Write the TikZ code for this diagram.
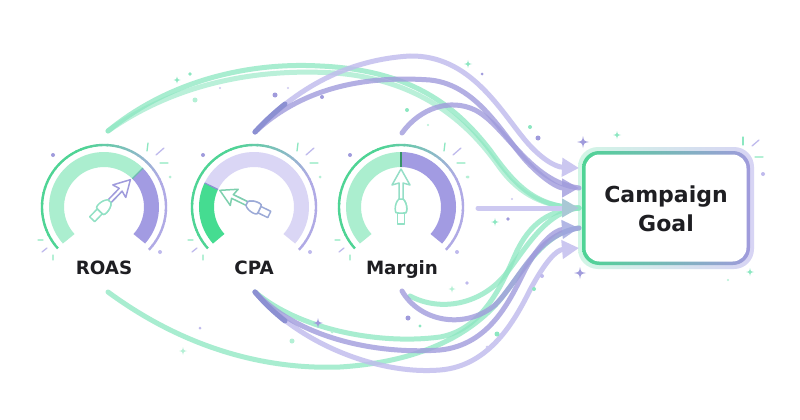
\documentclass[tikz,border=0pt]{standalone}
\usepackage{fontspec}
\setmainfont{DejaVu Sans}
\usetikzlibrary{arrows.meta}
\definecolor{ink}{HTML}{1E1E22}
\definecolor{mint}{HTML}{8CE7C1}
\definecolor{mintd}{HTML}{4FD495}
\definecolor{mintl}{HTML}{B4F0D5}
\definecolor{lav}{HTML}{BFBAED}
\definecolor{lavl}{HTML}{CDC9F1}
\definecolor{purp}{HTML}{A09BDC}
\definecolor{purpd}{HTML}{8C90D2}
\definecolor{bluep}{HTML}{9FA6DF}
\definecolor{tealg}{HTML}{A9C8D5}
\definecolor{bandP}{HTML}{A29BE2}
\definecolor{bandL}{HTML}{DAD6F5}
\definecolor{bandG}{HTML}{ABEECF}
\definecolor{bandGd}{HTML}{45DC91}
\definecolor{ringP}{HTML}{B0AAE5}
\tikzset{
  flow/.style={line width=5pt, line cap=round},
  grp/.style={transparency group, opacity=#1},
  label/.style={font=\bfseries\fontsize{18.3}{22}\selectfont, text=ink, anchor=base},
  needle/.style={line width=1.5pt, fill=white, line join=round},
  tickmark/.style={line width=1.3pt, line cap=round},
  band/.style={line width=15pt},
}
\newcommand\mysparkle[4]{\begin{scope}[shift={(#1,#2)},scale=#3]\fill[#4] (0,-1) .. controls (0.15,-0.15) .. (1,0) .. controls (0.15,0.15) .. (0,1) .. controls (-0.15,0.15) .. (-1,0) .. controls (-0.15,-0.15) .. (0,-1) -- cycle;\end{scope}}
\newcommand\myneedle[2]{%
  \draw[needle, draw=#2] (-17pt,-3.5pt) rectangle (-6pt,3.5pt);
  \draw[needle, draw=#2] (-6pt,-2.5pt) .. controls (-9pt,-7pt) and (4pt,-7pt) .. (8pt,-2pt) -- (23pt,-2pt);
  \draw[needle, draw=#1] (8pt,-2pt) -- (24pt,-2pt) -- (22pt,-9pt) -- (38pt,0pt) -- (22pt,9pt) -- (24pt,2pt) -- (8pt,2pt);
  \draw[needle, draw=#2] (-6pt,-2.5pt) .. controls (-9pt,-7pt) and (4pt,-7pt) .. (8pt,-2pt) -- (8pt,2pt) .. controls (4pt,7pt) and (-9pt,7pt) .. (-6pt,2.5pt) -- cycle;}
\newcommand\myring{%
  \foreach \a in {222,217,...,-38}{
    \pgfmathsetmacro\p{max(0,min(100,(\a-30)*1.25))}
    \draw[line width=2.4pt, draw=mintd!\p!ringP] (\a:62pt) arc[start angle=\a, end angle=\a-5.6, radius=62pt];
  }}
\newcommand\mydecor{%
  \draw[tickmark, mint] (44,-64) -- (43,-56);
  \draw[tickmark, lav] (52,-52) -- (60,-59);
  \draw[tickmark, mintl] (56,-44) -- (64,-44);
  \draw[tickmark, mintl] (-66,33) -- (-61,33);
  \draw[tickmark, lav] (-62,45) -- (-57,41);
  \draw[tickmark, mintl] (-51,48) -- (-51,53);
  \fill[purp] (-51,-52) circle[radius=2pt];
  \fill[lav] (56,45) circle[radius=2pt];
  \fill[mintl] (66,-30) circle[radius=1.5pt];}
\begin{document}
\begin{tikzpicture}[x=1pt,y=-1pt]
\useasboundingbox (0,0) rectangle (800,420);
\fill[white] (0,0) rectangle (800,420);

% ---------- gauges ----------
\coordinate (roas) at (104,207);
\coordinate (cpa) at (254,207);
\coordinate (marg) at (401,207);

\begin{scope}[shift={(roas)}]
  \myring
  \draw[band, bandG] (222:47.5pt) arc[start angle=222,end angle=45,radius=47.5pt];
  \draw[band, bandP] (45:47.5pt) arc[start angle=45,end angle=-42,radius=47.5pt];
  \draw[line width=1.2pt, draw=mintd!60!purp] (45:40pt) -- (45:55pt);
  \mydecor
  \begin{scope}[rotate=46]\myneedle{purp}{mint!80!tealg}\end{scope}
\end{scope}

\begin{scope}[shift={(cpa)}]
  \myring
  \draw[band, bandL] (154:47.5pt) arc[start angle=154,end angle=-42,radius=47.5pt];
  \draw[band, bandGd] (222:47.5pt) arc[start angle=222,end angle=154,radius=47.5pt];
  \draw[line width=1.2pt, draw=purpd] (154:40pt) -- (154:55pt);
  \mydecor
  \begin{scope}[rotate=154]\myneedle{mint!90!black}{purp!80!mint}\end{scope}
\end{scope}

\begin{scope}[shift={(marg)}]
  \myring
  \draw[band, bandG] (222:47.5pt) arc[start angle=222,end angle=90,radius=47.5pt];
  \draw[band, bandP] (90:47.5pt) arc[start angle=90,end angle=-42,radius=47.5pt];
  \draw[line width=1.2pt, draw=mintd!70!black] (90:40pt) -- (90:55pt);
  \mydecor
  \begin{scope}[rotate=90]\myneedle{mint!70!tealg}{mint!80!tealg}\end{scope}
\end{scope}

\node[label] (roasL) at (104,274) {ROAS};
\node[label] (cpaL) at (254,274) {CPA};
\node[label] (margL) at (402,274) {Margin};

% ---------- goal box ----------
\shade[rounded corners=20pt, left color=mintl!60, right color=lavl!80] (578,147) rectangle (754,269);
\shade[rounded corners=17pt, left color=mintd, right color=purp] (582,151) rectangle (750,265);
\fill[white, rounded corners=14pt] (585.5,154.5) rectangle (746.5,261.5);
\node[font=\bfseries\fontsize{22}{29}\selectfont, text=ink, align=center] (goal) at (666,209) {Campaign\\Goal};

% ---------- connector points ----------
\coordinate (roasTop) at (108,131);
\coordinate (cpaTop) at (255,132);
\coordinate (marTop) at (402,133);
\coordinate (roasBot) at (108,292);
\coordinate (cpaBot) at (255,292);
\coordinate (marBot) at (402,291);
\coordinate (marBotB) at (410,296);
\coordinate (marRight) at (478,208);
\coordinate (g1) at (579,168);
\coordinate (g2) at (579,188);
\coordinate (g3) at (579,208);
\coordinate (g4) at (579,228);
\coordinate (g5) at (579,248);

% ---------- flows without tips ----------
\begin{scope}[grp=0.75]
\draw[flow, mint] (roasTop) .. controls (170,80) and (250,62) .. (320,66) .. controls (410,70) and (455,105) .. (490,150) .. controls (515,185) and (535,207) .. (g3);
\end{scope}
\begin{scope}[grp=0.6]
\draw[flow, mint] (roasTop) .. controls (175,84) and (255,68) .. (335,73) .. controls (425,80) and (472,128) .. (500,168) .. controls (520,195) and (545,207) .. (g3);
\end{scope}
\begin{scope}[grp=0.75]
\draw[flow, mint] (roasBot) .. controls (180,345) and (260,370) .. (340,367) .. controls (420,362) and (470,335) .. (500,300) .. controls (525,268) and (545,232) .. (g4);
\end{scope}
\begin{scope}[grp=0.75]
\draw[flow, mint] (cpaBot) .. controls (300,330) and (380,345) .. (440,337) .. controls (480,330) and (500,290) .. (515,255) .. controls (530,222) and (550,210) .. (g3);
\end{scope}
\begin{scope}[grp=0.75]
\draw[flow, mint] (marBotB) .. controls (440,312) and (480,305) .. (505,275) .. controls (525,250) and (545,212) .. (g3);
\end{scope}
\begin{scope}[grp=0.8]
\draw[flow, purp] (marTop) .. controls (420,108) and (450,98) .. (475,110) .. controls (505,125) and (530,182) .. (g2);
\end{scope}
\begin{scope}[grp=0.8]
\draw[flow, purp] (marBot) .. controls (420,322) and (465,330) .. (495,305) .. controls (520,280) and (535,235) .. (g4);
\end{scope}

% ---------- flows with tips ----------
\begin{scope}[grp=0.8]
\draw[flow, lav, -{Triangle[length=17pt,width=18pt]}] (cpaTop) .. controls (290,95) and (340,60) .. (410,56) .. controls (470,55) and (500,110) .. (525,140) .. controls (540,158) and (555,167) .. (g1);
\end{scope}
\begin{scope}[grp=0.8]
\draw[flow, purp, -{Triangle[length=17pt,width=18pt,color=purp]}] (cpaTop) .. controls (300,90) and (360,75) .. (430,80) .. controls (480,85) and (505,140) .. (530,165) .. controls (545,180) and (558,188) .. (g2);
\end{scope}
\begin{scope}[grp=0.8]
\draw[flow, lav, -{Triangle[length=17pt,width=18pt]}] (cpaBot) .. controls (300,345) and (380,375) .. (440,370) .. controls (490,366) and (515,320) .. (530,290) .. controls (545,262) and (556,250) .. (g5);
\end{scope}
\begin{scope}[grp=0.8]
\draw[flow, purp, -{Triangle[length=17pt,width=18pt,color=bluep]}] (cpaBot) .. controls (295,335) and (370,355) .. (440,350) .. controls (490,345) and (510,300) .. (525,270) .. controls (540,242) and (555,230) .. (g4);
\end{scope}
\draw[flow, purpd] (cpaTop) .. controls (265,121) and (275,112) .. (285,104);
\draw[flow, purpd] (cpaBot) .. controls (265,304) and (275,313) .. (285,321);
\draw[flow, lavl, -{Triangle[length=17pt,width=18pt,color=tealg]}] (marRight) -- (g3);

% ---------- sparkles and dots ----------
\mysparkle{177}{80}{3.5}{mint}
\fill[mint] (190,74) circle[radius=1.8pt];
\fill[mintl] (195,100) circle[radius=2.5pt];
\fill[lavl] (220,88) circle[radius=1.2pt];
\fill[purp] (275,95) circle[radius=2.5pt];
\fill[lavl] (288,88) circle[radius=1.2pt];
\fill[purp] (322,97) circle[radius=2pt];
\mysparkle{468}{64}{4}{mint}
\fill[purp] (482,74) circle[radius=1.5pt];
\fill[mint] (407,110) circle[radius=2pt];
\fill[mintl] (428,125) circle[radius=1.2pt];
\fill[mint] (530,127) circle[radius=2pt];
\fill[purp] (538,138) circle[radius=2.5pt];
\mysparkle{583}{142}{6}{purp}
\mysparkle{617}{135}{4}{mint}
\mysparkle{495}{222}{4}{mint}
\fill[purp] (508,219) circle[radius=1.8pt];
\fill[lavl] (512,199) circle[radius=1.2pt];
\fill[mintl] (468,177) circle[radius=1.5pt];
\mysparkle{580}{273}{6}{purp}
\fill[lav] (542,276) circle[radius=2pt];
\fill[mint] (534,289) circle[radius=2pt];
\mysparkle{452}{289}{3.5}{mintl}
\fill[lav] (467,283) circle[radius=1.8pt];
\fill[purp] (408,318) circle[radius=2.5pt];
\fill[mint] (420,326) circle[radius=1.6pt];
\fill[mint] (497,334) circle[radius=2.5pt];
\fill[lavl] (487,347) circle[radius=1.5pt];
\fill[lav] (200,328) circle[radius=1.5pt];
\mysparkle{183}{351}{4}{mintl}
\mysparkle{318}{323}{5}{purp}
\fill[mintl] (292,341) circle[radius=2.5pt];
\fill[mintl] (332,332) circle[radius=1.5pt];
\mysparkle{750}{272}{4}{mint}
\fill[mintl] (728,280) circle[radius=1.2pt];
\fill[lav] (763,174) circle[radius=2pt];
\draw[tickmark, mint] (743,137) -- (743,145);
\draw[tickmark, lav] (752,146) -- (759,140);
\draw[tickmark, mintl] (755,157) -- (763,157);
\end{tikzpicture}
\end{document}
